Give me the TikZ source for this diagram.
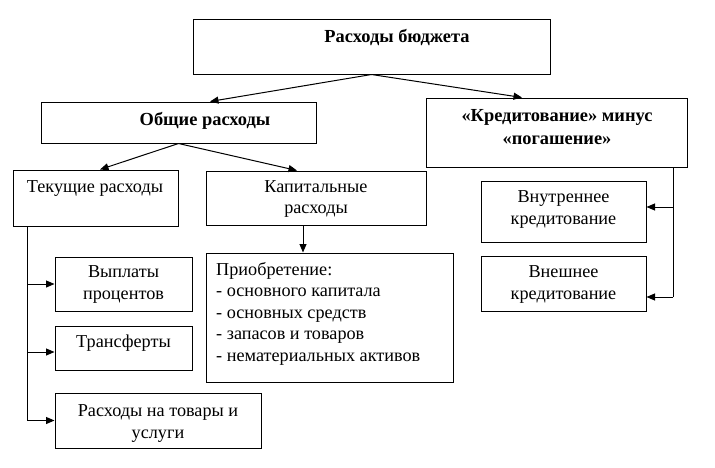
\documentclass[tikz,border=0pt]{standalone}
\usepackage{fontspec}
\setmainfont{Liberation Serif}
\usetikzlibrary{arrows.meta}
\begin{document}
\begin{tikzpicture}[x=1pt,y=-1pt,
  box/.style={draw, line width=1pt, inner sep=0pt},
  txt/.style={font=\fontsize{18.2}{21.5}\selectfont, align=center, inner sep=0pt},
  btxt/.style={txt, font=\fontsize{18.4}{23}\selectfont\bfseries},
  arr/.style={line width=1pt, -{Triangle[length=8.5pt,width=7pt]}},
  ln/.style={line width=1pt}]
\useasboundingbox (0,0) rectangle (715,467);
% boxes
\node[box, minimum width=357pt, minimum height=55pt] (top) at (371.5,46.5) {};
\node[btxt] (toptxt) at (397,38) {Расходы бюджета};
\node[box, minimum width=275pt, minimum height=41pt] (obsh) at (178.5,122.5) {};
\node[btxt] (obshtxt) at (205,121) {Общие расходы};
\node[box, minimum width=261pt, minimum height=69pt] (kred) at (556.5,132.5) {};
\node[btxt] (kredtxt) at (557,127) {«Кредитование» минус\\«погашение»};
\node[box, minimum width=165pt, minimum height=56pt] (tek) at (95.5,198) {};
\node[txt] (tektxt) at (95,188) {Текущие расходы};
\node[box, minimum width=220pt, minimum height=54pt] (kap) at (316,198) {};
\node[txt] (kaptxt) at (316,199) {Капитальные\\расходы};
\node[box, minimum width=165pt, minimum height=61pt] (vnut) at (563.5,211.5) {};
\node[txt] (vnuttxt) at (563.5,209.5) {Внутреннее\\кредитование};
\node[box, minimum width=165pt, minimum height=55pt] (vnesh) at (563.5,283.5) {};
\node[txt] (vneshtxt) at (563.5,284.5) {Внешнее\\кредитование};
\node[box, minimum width=137pt, minimum height=54pt] (vypl) at (123.5,284) {};
\node[txt] (vypltxt) at (123.5,284.5) {Выплаты\\процентов};
\node[box, minimum width=137pt, minimum height=44pt] (trans) at (123.5,348) {};
\node[txt] (transtxt) at (123.5,343) {Трансферты};
\node[box, minimum width=206pt, minimum height=55pt] (tov) at (158,420.5) {};
\node[txt] (tovtxt) at (158,423.5) {Расходы на товары и\\услуги};
\node[box, minimum width=247pt, minimum height=129pt] (priob) at (329.5,317.5) {};
\node[txt, align=left, anchor=west] (priobtxt) at (216,313.5) {Приобретение:\\- основного капитала\\- основных средств\\- запасов и товаров\\- нематериальных активов};
% connectors
\draw[arr] (top.south) -- ([xshift=31.5pt]obsh.north);
\draw[arr] (top.south) -- ([xshift=-34.5pt]kred.north);
\draw[arr] (obsh.south) -- ([xshift=4.5pt]tek.north);
\draw[arr] (obsh.south) -- ([xshift=-19pt]kap.north);
\draw[arr] ([xshift=-13pt]kap.south) -- ([xshift=-13pt]kap.south |- priob.north);
\coordinate (tl) at ([xshift=-68.5pt]tek.south);
\draw[ln] (tl) -- (tl |- tov.west);
\draw[arr] (tl |- vypl.west) -- (vypl.west);
\draw[arr] (tl |- trans.west) ++(0,4) coordinate (ts) -- (ts -| trans.west);
\draw[arr] (tl |- tov.west) -- (tov.west);
\coordinate (kr) at ([xshift=116.5pt]kred.south);
\draw[ln] (kr) -- ([yshift=-13.5pt]kr |- vnesh.east);
\draw[arr] ([yshift=4.5pt]kr |- vnut.east) -- ([yshift=4.5pt]vnut.east);
\draw[arr] ([yshift=-13.5pt]kr |- vnesh.east) -- ([yshift=-13.5pt]vnesh.east);
\end{tikzpicture}
\end{document}
